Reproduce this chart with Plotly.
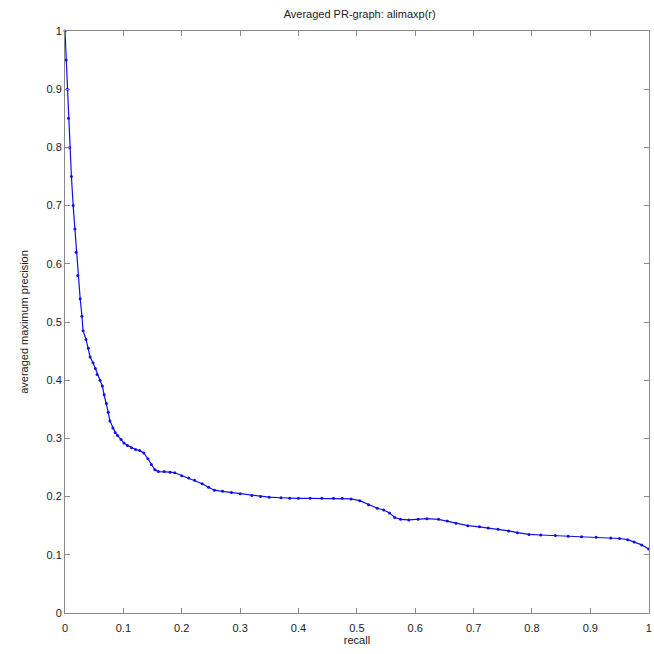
import plotly.graph_objects as go

recall = [0.0, 0.002, 0.004, 0.006, 0.008, 0.011, 0.014, 0.017, 0.019, 0.022, 0.026, 0.029,
          0.031, 0.036, 0.040, 0.043, 0.048, 0.052, 0.055, 0.060, 0.064, 0.067, 0.071,
          0.074, 0.077, 0.082, 0.086, 0.090, 0.096, 0.101, 0.107, 0.114, 0.121, 0.128,
          0.135, 0.142, 0.148, 0.154, 0.160, 0.170, 0.180, 0.188, 0.200, 0.212, 0.222,
          0.235, 0.246, 0.256, 0.270, 0.285, 0.300, 0.320, 0.335, 0.350, 0.370, 0.385,
          0.400, 0.420, 0.440, 0.460, 0.475, 0.490, 0.505, 0.520, 0.535, 0.546, 0.556,
          0.565, 0.575, 0.589, 0.605, 0.620, 0.640, 0.655, 0.670, 0.690, 0.710, 0.725,
          0.742, 0.760, 0.775, 0.795, 0.815, 0.840, 0.862, 0.885, 0.910, 0.935, 0.950,
          0.964, 0.975, 0.988, 1.0]
precision = [1.0, 0.95, 0.90, 0.85, 0.80, 0.75, 0.70, 0.66, 0.62, 0.58, 0.54, 0.51,
             0.485, 0.47, 0.455, 0.44, 0.43, 0.42, 0.41, 0.40, 0.39, 0.375, 0.36,
             0.345, 0.33, 0.318, 0.31, 0.305, 0.298, 0.292, 0.288, 0.284, 0.281, 0.279,
             0.275, 0.265, 0.255, 0.246, 0.243, 0.243, 0.242, 0.241, 0.236, 0.232, 0.228,
             0.222, 0.216, 0.211, 0.209, 0.207, 0.205, 0.202, 0.200, 0.199, 0.198, 0.197,
             0.197, 0.197, 0.197, 0.197, 0.197, 0.196, 0.193, 0.186, 0.180, 0.177, 0.172,
             0.164, 0.161, 0.160, 0.161, 0.162, 0.161, 0.158, 0.154, 0.150, 0.148, 0.146,
             0.144, 0.141, 0.138, 0.135, 0.134, 0.133, 0.132, 0.131, 0.130, 0.129, 0.128,
             0.126, 0.122, 0.117, 0.110]

x_ticks = [0, 0.1, 0.2, 0.3, 0.4, 0.5, 0.6, 0.7, 0.8, 0.9, 1]
x_labels = ["0", "0.1", "0.2", "0.3", "0.4", "0.5", "0.6", "0.7", "0.8", "0.9", "1"]
y_ticks = x_ticks
y_labels = x_labels

FONT = "Liberation Sans, Arial, sans-serif"

fig = go.Figure()
fig.add_trace(go.Scatter(
    x=recall, y=precision, mode="lines+markers",
    line=dict(color="#1010e8", width=1.2),
    marker=dict(color="#1010e8", size=3, symbol="circle"),
    showlegend=False, cliponaxis=False,
))

axis_common = dict(
    showgrid=False, zeroline=False, showline=True, linecolor="#8a8a8a", linewidth=1,
    mirror="ticks", ticks="inside", ticklen=5, tickcolor="#8a8a8a",
    tickfont=dict(family=FONT, size=11, color="#222"),
    automargin=False, ticklabeloverflow="allow",
)

fig.update_layout(
    width=654, height=654,
    margin=dict(l=65, r=5, t=31, b=41),
    paper_bgcolor="white", plot_bgcolor="white",
    title=dict(text="Averaged PR-graph: alimaxp(r)", x=0.55, xanchor="center",
               y=0.985, yanchor="top",
               font=dict(family=FONT, size=11, color="#222")),
    xaxis=dict(**axis_common, range=[0, 1.0005], tickvals=x_ticks, ticktext=x_labels,
               ticklabelstandoff=5,
               title=dict(text="recall", standoff=3,
                          font=dict(family=FONT, size=11, color="#222"))),
    yaxis=dict(**axis_common, range=[0, 1], tickvals=y_ticks, ticktext=y_labels,
               title=dict(text="averaged maximum precision", standoff=15,
                          font=dict(family=FONT, size=11, color="#222"))),
)

# remove the default page margin so the 654px figure fills the 654px window exactly
fig.write_html("out.html", config={"displayModeBar": False},
               post_script="document.body.style.margin='0';")
